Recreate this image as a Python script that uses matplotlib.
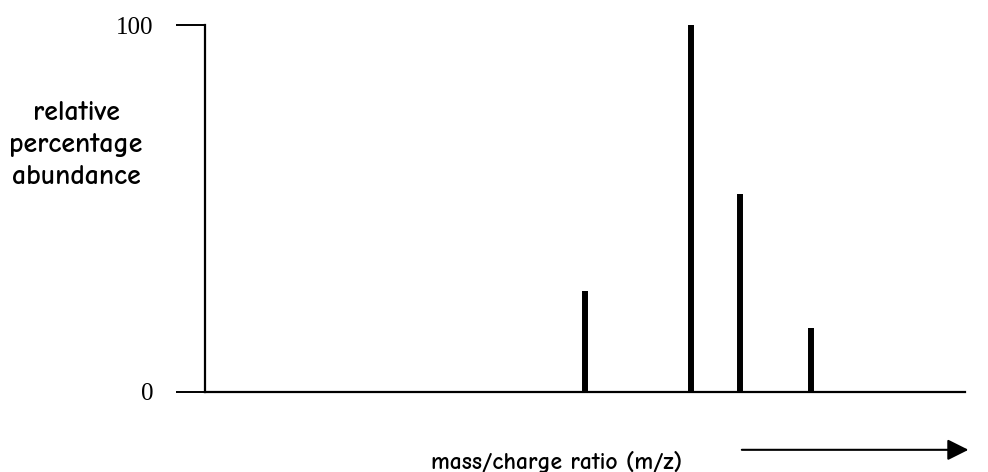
import matplotlib
matplotlib.use('Agg')
import matplotlib.pyplot as plt

# peak positions (arbitrary m/z scale, axis runs 0-100) and relative abundance
mz = [50.0, 63.9, 70.4, 79.7]
abundance = [27.5, 100, 54, 17.4]
ytick_vals = [0, 100]
ytick_labels = ['0', '100']

fig = plt.figure(figsize=(9.88, 4.72), dpi=100)
ax = fig.add_axes([0.2075, 0.1695, 0.7692, 0.7775])

ax.vlines(mz, 0, abundance, colors='black', linewidth=4.3)

ax.set_xlim(0, 100)
ax.set_ylim(0, 100)
ax.spines['top'].set_visible(False)
ax.spines['right'].set_visible(False)
ax.spines['left'].set_linewidth(1.6)
ax.spines['bottom'].set_linewidth(1.6)
ax.set_xticks([])
ax.set_yticks(ytick_vals)
ax.set_yticklabels(ytick_labels, family='Liberation Serif', fontsize=18)
ax.tick_params(axis='y', length=21, width=1.4, pad=16)

label_font = ['Comic Neue', 'Lato', 'DejaVu Sans']
fig.text(0.077, 0.693, 'relative\npercentage\nabundance', ha='center', va='center',
         fontsize=20, family=label_font, linespacing=1.4, fontweight='bold')
fig.text(0.5635, 0.022, 'mass/charge ratio (m/z)', ha='center', va='center',
         fontsize=17, family=label_font, fontweight='bold')
fig.patches.append(matplotlib.patches.FancyArrowPatch(
    (0.748, 0.047), (0.983, 0.047), transform=fig.transFigure,
    arrowstyle='-|>,head_length=8,head_width=4', mutation_scale=1.6,
    color='black', linewidth=1.5))

fig.savefig('out.png', dpi=100)
